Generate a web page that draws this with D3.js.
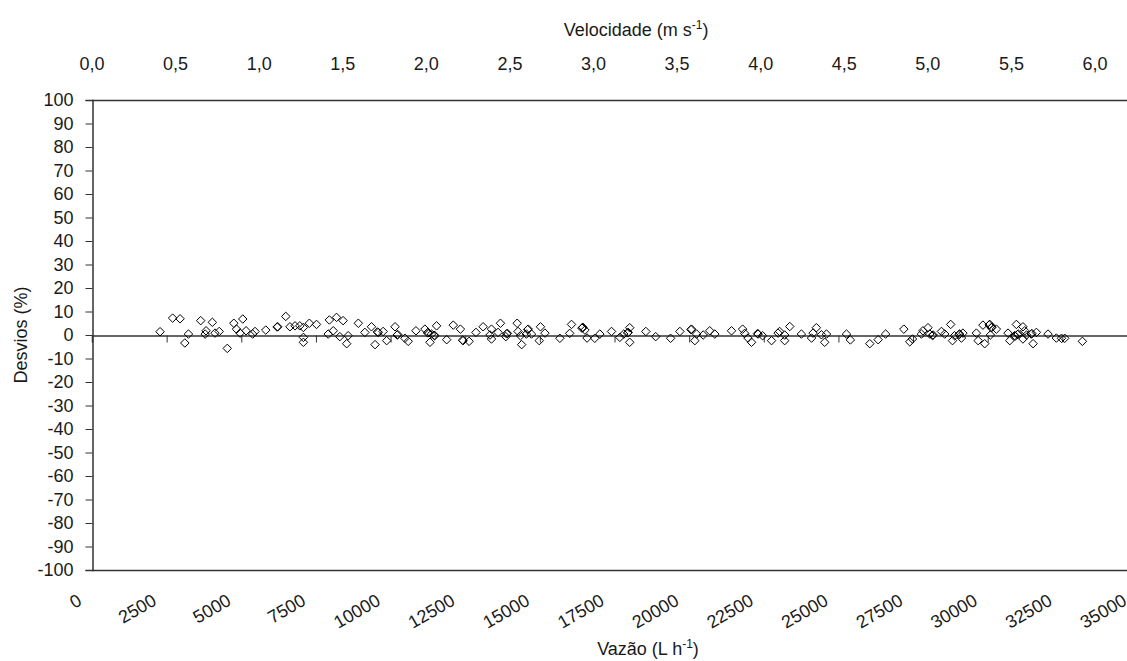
<!DOCTYPE html>
<html>
<head>
<meta charset="utf-8">
<script src="https://cdn.jsdelivr.net/npm/d3@7"></script>
<style>
  html, body { margin: 0; padding: 0; background: #ffffff; }
  svg text { font-family: "Liberation Sans", Arial, sans-serif; fill: #1a1a1a; }
</style>
</head>
<body>
<svg id="chart" width="1127" height="661"></svg>
<script>
// ---- Data ----
const flowRate = [
  2280,2700,2950,3230,3110,3640,3820,3790,4030,4120,4260,4530,4750,5050,4840,5160,4960,5380,5460,5820,
  6220,6200,6490,6630,6800,6960,7080,7080,7080,7280,7520,7950,8190,8410,7910,8080,8300,8530,8580,8920,
  9140,9360,9480,9590,9560,9750,9870,10150,10220,10240,10480,10590,10850,11150,11260,11240,11370,11320,11480,11460,
  11540,11880,
  12100,12340,12430,12410,12630,12860,13100,13380,13330,13380,13680,13600,13910,13890,13860,14240,14270,14350,14390,14610,
  14590,14550,14720,14980,15020,15170,15670,16000,16060,16430,16410,16440,16510,16580,16840,17010,17400,17680,17810,17960,
  17940,18010,18010,18550,18880,19380,19690,20080,20060,20190,20250,20470,20690,20860,21420,21790,21860,21970,22090,22310,
  22290,22460,22760,22980,
  23030,23200,23200,23370,23760,24100,24150,24260,24430,24540,24600,25270,25400,26050,26330,26580,27190,27390,27480,27780,
  27830,28000,28060,28170,28150,28450,28560,28760,28890,28820,29060,29040,29120,29170,29620,29680,29840,29900,30070,30050,
  30120,30140,30290,30090,30680,30740,30960,30900,30920,31020,31000,31180,31240,31180,31300,31520,31460,31480,31630,32020,
  32300,32470,32580,33170
];
const deviation = [
  1.4,7.2,6.9,0.4,-3.4,6.1,1.8,0.4,5.4,0.8,1.5,-5.7,5.0,6.8,2.5,1.8,0.8,0.4,1.5,2.1,
  3.5,3.4,7.9,3.5,3.9,3.9,3.2,-1.0,-3.1,5.0,4.5,6.4,7.5,6.1,0.4,1.8,-0.7,-3.7,-0.3,5.0,
  1.1,3.5,-4.1,1.1,1.3,1.5,-2.4,3.5,0.0,0.2,-1.4,-2.7,1.8,2.5,1.1,0.9,0.4,-3.1,-0.3,-0.1,
  3.9,-2.0,
  4.2,2.5,-2.4,-2.2,-2.7,1.1,3.5,2.5,0.0,-1.7,5.0,1.1,0.7,0.5,-0.7,5.0,1.5,-0.3,-4.1,2.5,
  2.3,0.4,0.4,-2.4,3.5,0.8,-1.4,0.7,4.5,3.1,2.9,3.3,2.1,-1.3,-1.4,0.4,1.5,-1.0,0.4,1.1,
  0.9,3.1,-3.1,1.5,-0.7,-1.4,1.5,2.5,2.3,-2.4,0.4,0.0,1.8,0.4,1.8,2.5,0.7,-1.3,-3.1,0.4,
  0.6,-0.3,-2.4,0.8,
  1.5,0.0,-2.4,3.6,0.4,-1.3,0.8,3.1,0.1,-3.1,0.4,0.4,-2.1,-3.7,-2.0,0.4,2.5,-2.9,-1.7,0.4,
  1.8,3.1,0.4,0.0,-0.2,1.5,0.4,4.5,-0.3,-2.4,0.4,0.2,-1.3,0.8,0.8,-2.4,4.2,-3.7,4.5,4.3,
  3.1,3.3,2.5,0.0,0.8,-2.4,4.5,-0.3,-0.5,0.4,0.2,3.5,1.8,-1.7,0.0,-3.7,0.4,0.6,1.1,0.4,
  -1.3,-1.4,-1.4,-2.7
];
const flowTicks = d3.range(0, 35001, 2500);
const velocityTicks = d3.range(0, 6.01, 0.5);
const deviationTicks = d3.range(-100, 101, 10);

// ---- Layout ----
const svg = d3.select("#chart");
const L = 92, T = 100, B = 570, R = 1137;
const lineColor = "#333";

const x = d3.scaleLinear().domain([0, 35000]).range([L, R]);
const xTop = d3.scaleLinear().domain([0, 6]).range([L, 1095]);
const y = d3.scaleLinear().domain([-100, 100]).range([B, T]);

// frame lines (top, bottom)
svg.append("line").attr("x1", L).attr("x2", R).attr("y1", T + 0.5).attr("y2", T + 0.5)
  .attr("stroke", lineColor).attr("stroke-width", 1.5);
svg.append("line").attr("x1", L).attr("x2", R).attr("y1", B + 0.5).attr("y2", B + 0.5)
  .attr("stroke", lineColor).attr("stroke-width", 1.5);

// Y axis
const yAxis = d3.axisLeft(y).tickValues(deviationTicks).tickSize(7).tickPadding(12)
  .tickFormat(d => String(d));
const gy = svg.append("g").attr("transform", `translate(${L + 0.5},0)`).call(yAxis);
gy.select(".domain").attr("stroke", lineColor).attr("stroke-width", 1.5);
gy.selectAll(".tick line").attr("stroke", lineColor);
gy.selectAll(".tick text").attr("font-size", 18).attr("fill", "#1a1a1a")
  .attr("font-family", "Liberation Sans, Arial, sans-serif");

// zero line with ticks (horizontal axis crossing at 0)
const xAxis = d3.axisBottom(x).tickValues(flowTicks).tickSize(7).tickFormat("");
const gx = svg.append("g").attr("transform", `translate(0,${y(0) + 0.5})`).call(xAxis);
gx.select(".domain").attr("stroke", lineColor).attr("stroke-width", 1.5);
gx.selectAll(".tick line").attr("stroke", lineColor);
gx.selectAll(".tick").filter(d => d === 0).remove();

// bottom rotated labels
svg.append("g").selectAll("text").data(flowTicks).join("text")
  .attr("transform", d => `translate(${x(d) - 9},604) rotate(-30)`)
  .attr("text-anchor", "end")
  .attr("font-size", 18)
  .text(d => d);

// top velocity labels
svg.append("g").selectAll("text").data(velocityTicks).join("text")
  .attr("x", d => xTop(d)).attr("y", 70)
  .attr("text-anchor", "middle").attr("font-size", 18)
  .text(d => d3.format(".1f")(d).replace(".", ","));

// titles
const tTop = svg.append("text").attr("x", 636).attr("y", 36).attr("text-anchor", "middle").attr("font-size", 18);
tTop.append("tspan").text("Velocidade (m s");
tTop.append("tspan").attr("font-size", 12).attr("dy", -7).text("-1");
tTop.append("tspan").attr("dy", 7).text(")");

const tBot = svg.append("text").attr("x", 648).attr("y", 655).attr("text-anchor", "middle").attr("font-size", 18);
tBot.append("tspan").text("Vazão (L h");
tBot.append("tspan").attr("font-size", 12).attr("dy", -7).text("-1");
tBot.append("tspan").attr("dy", 7).text(")");

svg.append("text").attr("transform", `translate(27,${y(0)}) rotate(-90)`)
  .attr("text-anchor", "middle").attr("font-size", 18).text("Desvios (%)");

// points (diamonds)
const pts = flowRate.map((q, i) => ({ q, d: deviation[i] }));
const diamond = d3.symbol().type(d3.symbolDiamond2).size(46);
svg.append("g").selectAll("path").data(pts).join("path")
  .attr("transform", p => `translate(${x(p.q)},${y(p.d)})`)
  .attr("d", diamond)
  .attr("fill", "none").attr("stroke", "#000").attr("stroke-width", 1);
</script>
</body>
</html>
